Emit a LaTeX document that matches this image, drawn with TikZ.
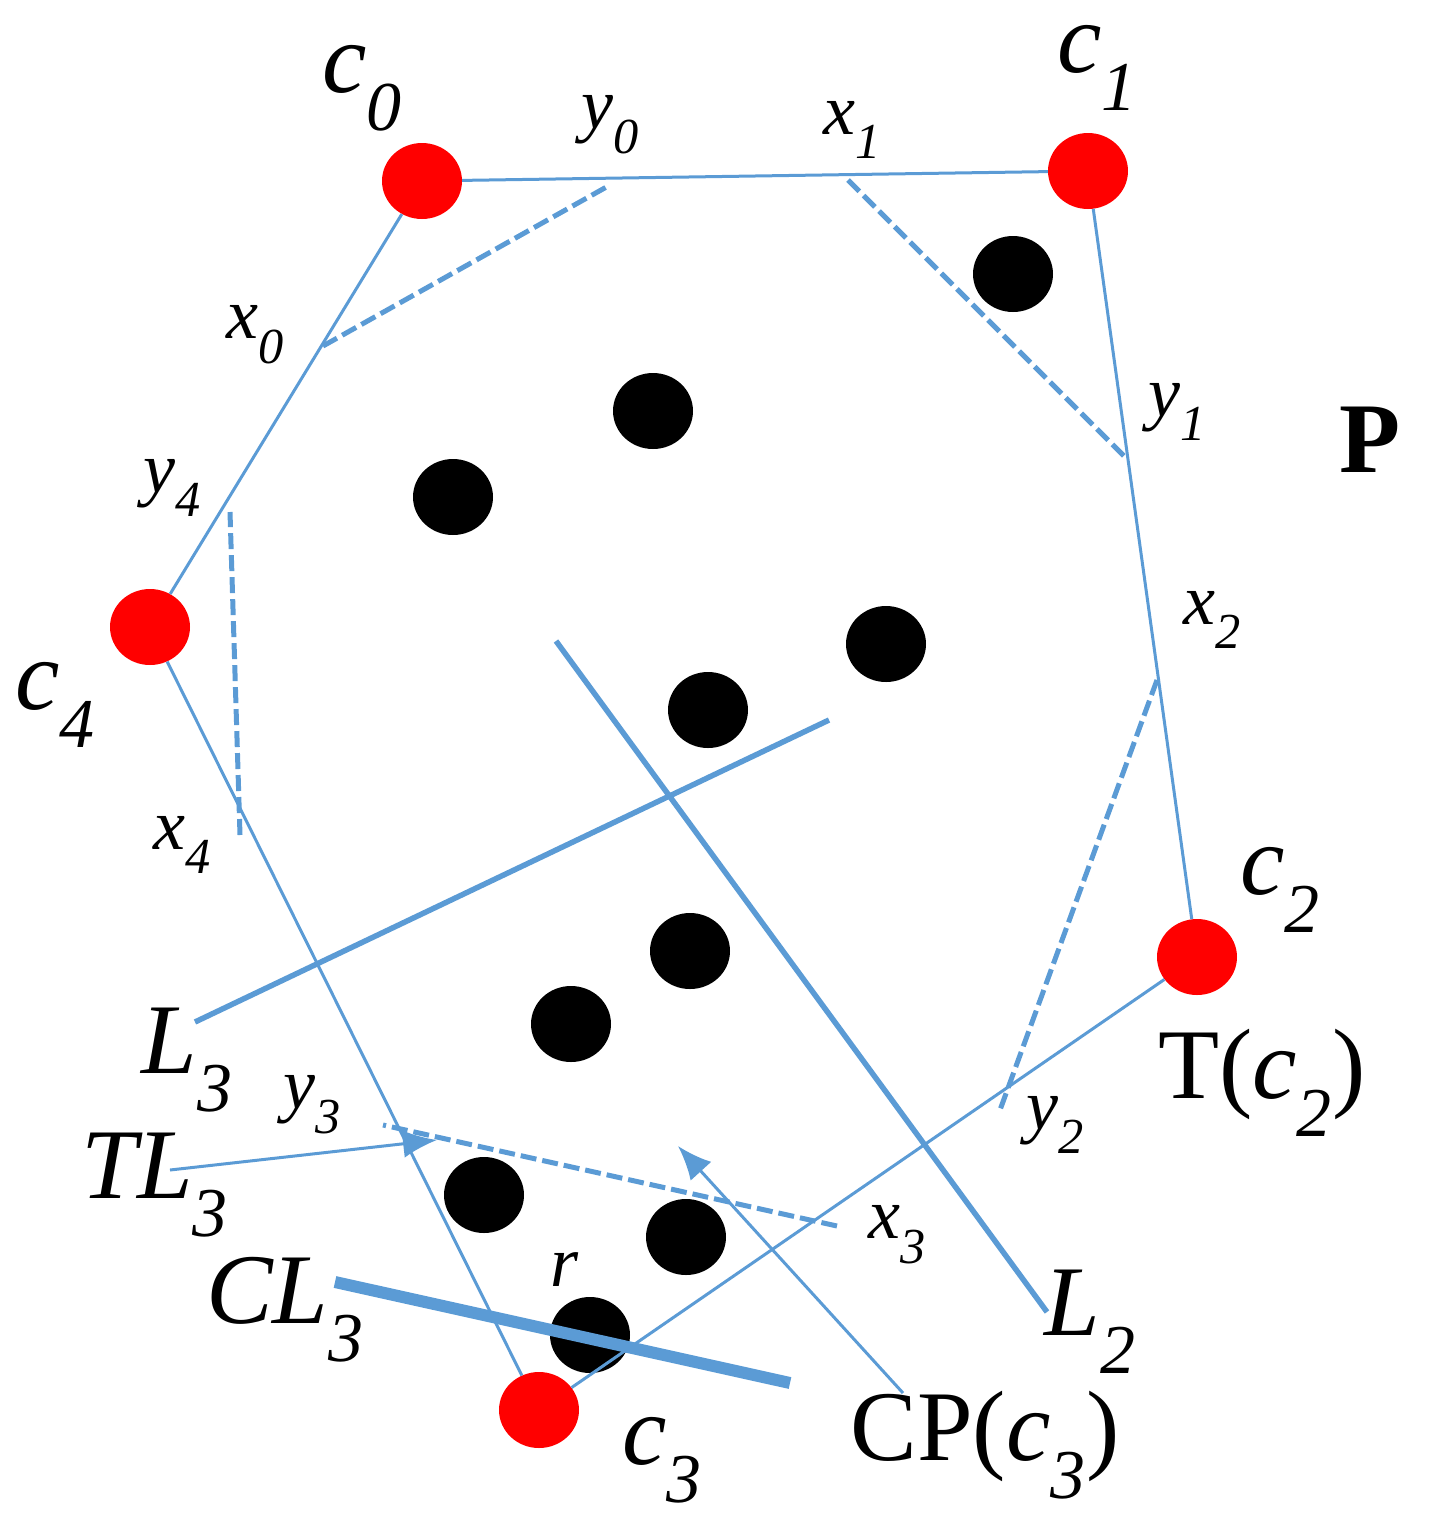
\documentclass[tikz,border=0pt]{standalone}
\usepackage{fontspec}
\setmainfont{Liberation Serif}
\usetikzlibrary{shapes.geometric,arrows.meta}
\definecolor{lb}{RGB}{91,155,213}
\begin{document}
\begin{tikzpicture}[x=1pt,y=-1pt,
  red dot/.style={ellipse,fill=red,minimum width=80pt,minimum height=76pt,inner sep=0},
  blk/.style={ellipse,fill=black,minimum width=80pt,minimum height=76pt,inner sep=0},
  big/.style={font=\fontsize{100}{100}\selectfont\itshape},
  med/.style={font=\fontsize{72}{72}\selectfont\itshape}]
\useasboundingbox (0,0) rectangle (1431,1535);
\node[red dot] (c0) at (422,181) {};
\node[red dot] (c1) at (1088,171) {};
\node[red dot] (c2) at (1197,957) {};
\node[red dot] (c3) at (539,1410) {};
\node[red dot] (c4) at (150,627) {};
\foreach \p [count=\i] in {(1013,274),(653,411),(453,497),(886,644),(708,710),(690,951),(571,1024),(484,1195),(686,1237),(590,1335)}
  \node[blk] (b\i) at \p {};
\draw[lb,line width=3pt] (c0) -- (c1) -- (c2) -- (c3) -- (c4) -- (c0);
\foreach \n/\a/\b in {p0/323/346,q0/610/185,p1/848/180,q1/1125/457,p2/1157/680,q2/1000/1110,p3/837/1226,q3/383/1125,p4/240/835,q4/230/512}
  \coordinate (\n) at (\a,\b);
\draw[lb,line width=5pt,dash pattern=on 16pt off 6pt] (p0)--(q0) (p1)--(q1) (p2)--(q2) (p3)--(q3) (p4)--(q4);
\coordinate (l2a) at (556,641); \coordinate (l2b) at (1047,1312);
\coordinate (l3a) at (195,1022); \coordinate (l3b) at (829,720);
\coordinate (cla) at (335,1282); \coordinate (clb) at (790,1383);
\draw[lb,line width=5.5pt] (l2a)--(l2b) (l3a)--(l3b);
\draw[lb,line width=12pt] (cla)--(clb);
\coordinate (ta) at (170,1170); \coordinate (tb) at (437,1140);
\coordinate (ca) at (903,1393); \coordinate (cb) at (678,1146);
\draw[lb,line width=3pt,-{Latex[length=34pt,width=28pt]}] (ta)--(tb);
\draw[lb,line width=3pt,-{Latex[length=34pt,width=28pt]}] (ca)--(cb);
\node[big] at (362,88) {c\textsubscript{0}};
\node[big] at (1097,68) {c\textsubscript{1}};
\node[big] at (1280,890) {c\textsubscript{2}};
\node[big] at (662,1460) {c\textsubscript{3}};
\node[big] at (55,705) {c\textsubscript{4}};
\node[med] at (610,125) {y\textsubscript{0}};
\node[med] at (852,130) {x\textsubscript{1}};
\node[med] at (1177,412) {y\textsubscript{1}};
\node[med] at (1212,620) {x\textsubscript{2}};
\node[med] at (1055,1125) {y\textsubscript{2}};
\node[med] at (897,1235) {x\textsubscript{3}};
\node[med] at (312,1105) {y\textsubscript{3}};
\node[med] at (182,845) {x\textsubscript{4}};
\node[med] at (172,488) {y\textsubscript{4}};
\node[med] at (255,335) {x\textsubscript{0}};
\node[med] at (565,1270) {r};
\node[font=\fontsize{100}{100}\selectfont\bfseries] at (1370,440) {P};
\node[big] at (187,1060) {L\textsubscript{3}};
\node[big] at (1090,1322) {L\textsubscript{2}};
\node[big] at (155,1185) {TL\textsubscript{3}};
\node[big] at (285,1310) {CL\textsubscript{3}};
\node[font=\fontsize{100}{100}\selectfont] at (1262,1083) {T(\textit{c}\textsubscript{\textit{2}})};
\node[font=\fontsize{100}{100}\selectfont] at (985,1445) {CP(\textit{c}\textsubscript{\textit{3}})};
\end{tikzpicture}
\end{document}
